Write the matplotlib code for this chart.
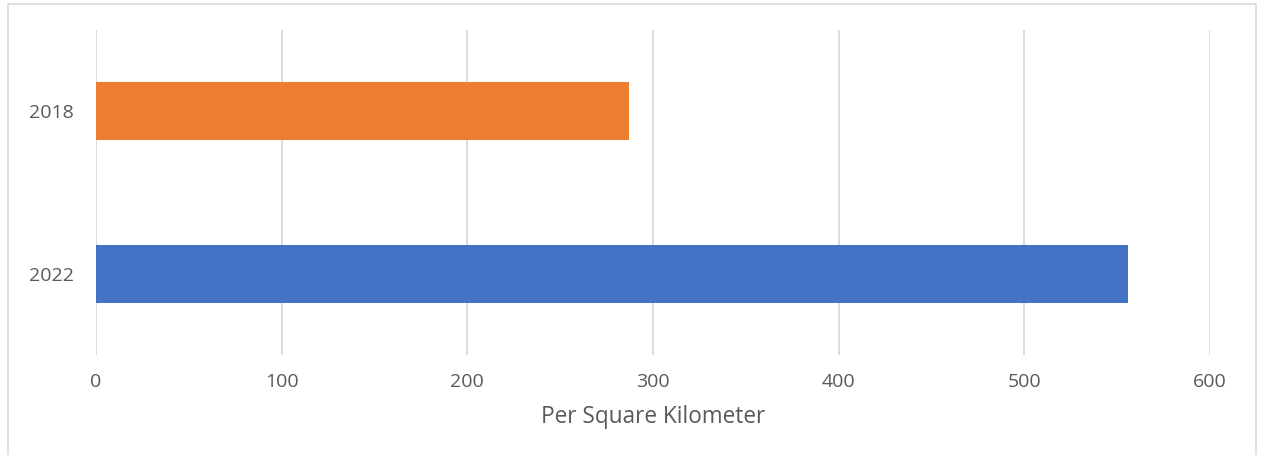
import matplotlib.pyplot as plt
from matplotlib.patches import Rectangle

plt.rcParams['font.family'] = ['Open Sans', 'DejaVu Sans']

years = ["2022", "2018"]
values = [556, 287]
colors = ["#4472C4", "#ED7D31"]
xticks = [0, 100, 200, 300, 400, 500, 600]

fig = plt.figure(figsize=(12.61, 4.55), dpi=100)
ax = fig.add_axes([96/1261, 1 - 355/455, (1210 - 96)/1261, (355 - 30)/455])

ax.barh(years, values, height=0.355, color=colors, zorder=3)
ax.set_xlim(0, 600)
ax.set_ylim(-0.5, 1.5)
ax.set_xticks(xticks)
ax.grid(axis="x", color="#D9D9D9", linewidth=1.3, zorder=0)
for s in ax.spines.values():
    s.set_visible(False)
ax.tick_params(length=0, labelsize=14, colors="#595959")
ax.tick_params(axis="x", pad=13)
ax.tick_params(axis="y", pad=16)
ax.set_xlabel("Per Square Kilometer", fontsize=16.3, color="#595959", labelpad=10)

# chart frame
fig.patches.append(Rectangle((8/1261, -0.05), (1256 - 8)/1261, 1 - 4/455 + 0.05,
                             transform=fig.transFigure, fill=False,
                             edgecolor="#D9D9D9", linewidth=1.2))

fig.savefig("out.png", dpi=100)
